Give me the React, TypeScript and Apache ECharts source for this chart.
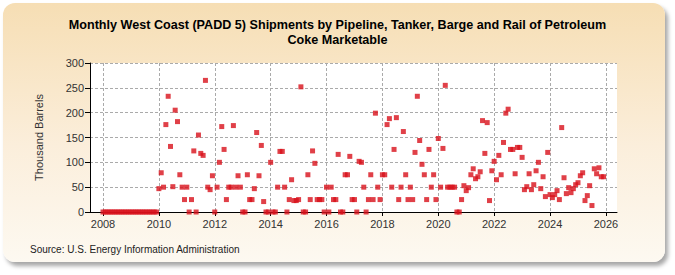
import React, { useEffect, useRef } from "react";
import * as echarts from "echarts";

const firstYear = 2008;
const yearTicks = [2008, 2010, 2012, 2014, 2016, 2018, 2020, 2022, 2024, 2026];
const yTicks = [0, 50, 100, 150, 200, 250, 300];

const values2008to2009 = [
  0, 0, 0, 0, 0, 0, 0, 0, 0, 0, 0, 0,
  0, 0, 0, 0, 0, 0, 0, 0, 0, 0, 0, 0,
];
const values2010to2013 = [
  47, 79, 50, 176, 233, 132, 51, 205, 182, 75, 50, 25,
  50, 0, 25, 123, 0, 155, 118, 114, 265, 50, 45, 73,
  0, 50, 100, 172, 126, 25, 50, 50, 174, 50, 73, 50,
  0, 0, 75, 25, 25, 47, 160, 73, 134, 21, 0, 0,
];
const values2014to2017 = [
  100, 0, 0, 50, 122, 122, 50, 0, 25, 65, 23, 23,
  25, 252, 0, 0, 75, 25, 123, 98, 25, 25, 25, 0,
  50, 0, 50, 25, 25, 116, 0, 0, 75, 75, 112, 25,
  25, 0, 102, 100, 50, 0, 25, 75, 25, 199, 50, 25,
];
const values2018to2021 = [
  75, 75, 176, 188, 50, 126, 190, 25, 50, 162, 75, 25,
  50, 25, 120, 233, 144, 96, 75, 25, 126, 50, 75, 25,
  148, 50, 128, 255, 50, 50, 50, 50, 0, 0, 25, 53,
  43, 49, 75, 87, 67, 71, 81, 184, 118, 180, 23, 83,
];
const values2022to2025 = [
  102, 65, 114, 75, 140, 199, 207, 126, 126, 77, 130, 130,
  110, 45, 51, 77, 45, 55, 83, 100, 47, 71, 31, 120,
  35, 29, 35, 43, 25, 170, 69, 37, 49, 39, 47, 55,
  59, 73, 79, 23, 33, 53, 13, 87, 77, 89, 71, 71,
];

const allValues = [
  ...values2008to2009,
  ...values2010to2013,
  ...values2014to2017,
  ...values2018to2021,
  ...values2022to2025,
];
const seriesData = allValues.map((v, i) => [firstYear + i / 12, v]);

export default function App() {
  const ref = useRef<HTMLDivElement>(null);
  useEffect(() => {
    if (!ref.current) return;
    const chart = echarts.init(ref.current, undefined, { renderer: "svg" });
    const font = "'Liberation Sans', Arial, sans-serif";
    chart.setOption({
      animation: false,
      backgroundColor: "transparent",
      title: {
        text:
          "Monthly West Coast (PADD 5) Shipments by Pipeline, Tanker, Barge and Rail of Petroleum\nCoke Marketable",
        left: "center",
        top: 12,
        padding: 5,
        textStyle: {
          fontFamily: font,
          fontSize: 12.6,
          fontWeight: "bold",
          color: "#000",
          lineHeight: 15,
        },
      },
      grid: {
        left: 90,
        right: 58,
        top: 63,
        bottom: 63,
        show: true,
        backgroundColor: "#fff",
        borderWidth: 0,
      },
      xAxis: {
        type: "value",
        min: 2007.535,
        max: 2026.396,
        axisLine: { show: true, lineStyle: { color: "#000", width: 1 } },
        axisTick: {
          show: true,
          length: 4,
          lineStyle: { color: "#000" },
          customValues: yearTicks,
        },
        axisLabel: {
          customValues: yearTicks,
          formatter: (v: number) => String(Math.round(v)),
          fontFamily: font,
          fontSize: 11,
          color: "#333",
          margin: 6,
        },
        splitLine: {
          show: true,
          lineStyle: { color: "#aaa", type: [3, 2], width: 1 },
        },
      },
      yAxis: {
        type: "value",
        min: 0,
        max: 300,
        interval: 50,
        name: "Thousand Barrels",
        nameLocation: "middle",
        nameGap: 46,
        nameRotate: 90,
        nameTextStyle: { fontFamily: font, fontSize: 11, color: "#333" },
        axisLine: { show: true, lineStyle: { color: "#000", width: 1 } },
        axisTick: { show: true, length: 5, lineStyle: { color: "#000" } },
        axisLabel: {
          fontFamily: font,
          fontSize: 11,
          color: "#333",
          margin: 6,
          formatter: (v: number) => (yTicks.includes(v) ? String(v) : ""),
        },
        splitLine: {
          show: true,
          lineStyle: { color: "#aaa", type: [3, 2], width: 1 },
        },
      },
      series: [
        {
          type: "scatter",
          data: seriesData,
          symbol: "rect",
          symbolSize: 5,
          itemStyle: { color: "#d8101a" },
          z: 3,
        },
      ],
      graphic: [
        {
          type: "text",
          left: 30,
          top: 244,
          style: {
            text: "Source: U.S. Energy Information Administration",
            font: `10px ${font}`,
            fill: "#222",
          },
        },
      ],
    });
    return () => chart.dispose();
  }, []);

  return (
    <div
      style={{
        position: "fixed",
        left: 0,
        top: 0,
        width: 675,
        height: 275,
        background: "#fff",
        overflow: "hidden",
      }}
    >
      <div
        style={{
          position: "absolute",
          left: 3,
          top: 3,
          width: 662,
          height: 259,
          borderRadius: 12,
          background: "linear-gradient(to bottom, #f6deb4 0%, #fbeedb 55%, #fdf9f1 100%)",
          boxShadow: "3px 4px 4px rgba(0,0,0,0.35)",
        }}
      />
      <div
        ref={ref}
        style={{ position: "absolute", left: 0, top: 0, width: 675, height: 275 }}
      />
    </div>
  );
}
